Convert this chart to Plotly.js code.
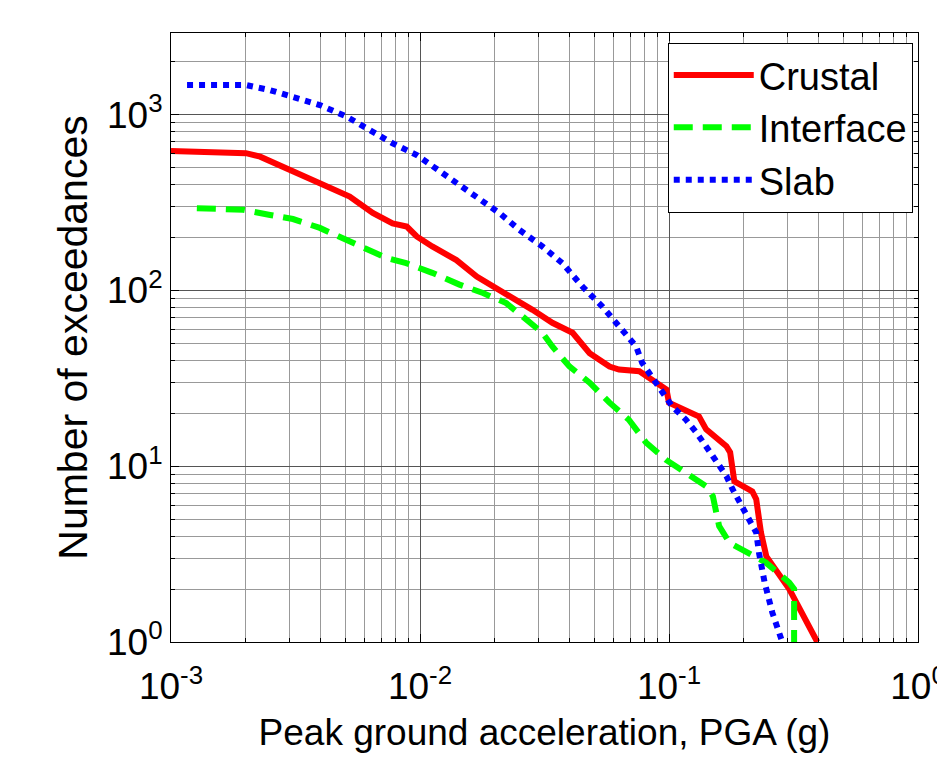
<!DOCTYPE html>
<html>
<head>
<meta charset="utf-8">
<script src="https://cdn.plot.ly/plotly-3.0.1.min.js"></script>
<style>html,body{margin:0;padding:0;background:#fff;}#chart{width:937px;height:758px;}</style>
</head>
<body>
<div id="chart"></div>
<script>
// Crustal
const crustalX = [0.001, 0.002, 0.00228, 0.003, 0.00396, 0.00522, 0.00646, 0.00776, 0.00885, 0.0097, 0.0112, 0.014, 0.0169, 0.0209, 0.024, 0.0283, 0.034, 0.041, 0.048, 0.0577, 0.063, 0.076, 0.089, 0.0977, 0.1, 0.117, 0.132, 0.141, 0.17, 0.176, 0.183, 0.216, 0.224, 0.234, 0.246, 0.304, 0.394];
const crustalY = [622, 604, 577, 485, 408, 342, 276, 241, 231, 203, 178, 149, 120, 101, 88.5, 77.6, 65.5, 57.5, 44, 36.9, 35.5, 34.7, 29.9, 27.3, 23, 21, 19.2, 16.2, 13, 12, 8.2, 7.2, 6.5, 4.2, 3.07, 2.0, 1];
// Interface
const interfaceX = [0.00127, 0.00195, 0.0025, 0.00309, 0.00396, 0.00476, 0.00573, 0.00735, 0.0088, 0.0112, 0.0144, 0.0179, 0.0222, 0.0258, 0.031, 0.034, 0.0398, 0.048, 0.0577, 0.069, 0.081, 0.097, 0.117, 0.141, 0.15, 0.159, 0.175, 0.216, 0.245, 0.304, 0.318, 0.318];
const interfaceY = [294, 288, 269, 255, 227, 203, 178, 153, 143, 126, 108, 96.7, 84.8, 71, 57.5, 48, 37, 29.9, 23, 18.4, 13.6, 10.9, 9.2, 7.7, 6.75, 4.56, 3.67, 3.08, 2.83, 2.18, 2.0, 1];
// Slab
const slabX = [0.00116, 0.002, 0.0025, 0.00309, 0.00396, 0.00508, 0.00628, 0.00776, 0.0097, 0.014, 0.0173, 0.0209, 0.0251, 0.031, 0.0373, 0.045, 0.054, 0.063, 0.0738, 0.078, 0.0887, 0.103, 0.117, 0.129, 0.15, 0.17, 0.18, 0.204, 0.224, 0.23, 0.242, 0.26, 0.285];
const slabY = [1475, 1475, 1380, 1265, 1135, 975, 818, 688, 590, 408, 327, 275, 221, 178, 143, 105, 81, 62, 48, 38.8, 30, 21.9, 18.4, 15.5, 11.4, 8.8, 7.4, 5.4, 4.2, 3.2, 2.19, 1.47, 1.0];

const xTickVals = [0.001, 0.01, 0.1, 1];
const xTickText = ['10<sup>-3</sup>', '10<sup>-2</sup>', '10<sup>-1</sup>', '10<sup>0</sup>'];
const yTickVals = [1, 10, 100, 1000];
const yTickText = ['10<sup>0</sup>', '10<sup>1</sup>', '10<sup>2</sup>', '10<sup>3</sup>'];

function minorVals(lo, hi) {
  const v = [];
  for (let e = lo; e < hi; e++) for (let m = 2; m <= 9; m++) v.push(m * Math.pow(10, e));
  return v;
}

const FONT = 'Liberation Sans, Arial, sans-serif';

const traces = [
  {x: crustalX, y: crustalY, name: 'Crustal', mode: 'lines', line: {color: '#ff0000', width: 6}},
  {x: interfaceX, y: interfaceY, name: 'Interface', mode: 'lines', line: {color: '#00ff00', width: 6, dash: '19px,10px'}},
  {x: slabX, y: slabY, name: 'Slab', mode: 'lines', line: {color: '#0000ff', width: 6, dash: 'dot'}}
];

const axisCommon = {
  type: 'log',
  showline: true, linecolor: '#000', linewidth: 1, mirror: 'allticks',
  ticks: 'inside', ticklen: 8, tickcolor: '#000', tickwidth: 1,
  showgrid: true, gridcolor: '#555', gridwidth: 1,
  zeroline: false,
  tickmode: 'array',
  ticklabeloverflow: 'allow',
  tickfont: {family: FONT, size: 37, color: '#000'}
};

const layout = {
  width: 937, height: 758,
  margin: {l: 171, r: 19, t: 33, b: 116},
  paper_bgcolor: '#fff', plot_bgcolor: '#fff',
  showlegend: true,
  xaxis: Object.assign({}, axisCommon, {
    range: [-3, 0],
    tickvals: xTickVals, ticktext: xTickText,
    ticklabelstandoff: 12,
    minor: {tickmode: 'array', tickvals: minorVals(-3, 0), ticks: 'inside', ticklen: 4, tickcolor: '#000', showgrid: true, gridcolor: '#999', gridwidth: 1},
    title: {text: 'Peak ground acceleration, PGA (g)', font: {family: FONT, size: 37, color: '#000'}, standoff: 12}
  }),
  yaxis: Object.assign({}, axisCommon, {
    range: [0, 3.465],
    tickvals: yTickVals, ticktext: yTickText,
    minor: {tickmode: 'array', tickvals: minorVals(0, 4), ticks: 'inside', ticklen: 4, tickcolor: '#000', showgrid: true, gridcolor: '#999', gridwidth: 1},
    title: {text: 'Number of exceedances', font: {family: FONT, size: 41, color: '#000'}, standoff: 6}
  }),
  legend: {
    x: 0.665, y: 0.984, xanchor: 'left', yanchor: 'top',
    bgcolor: '#fff', bordercolor: '#000', borderwidth: 1,
    font: {family: FONT, size: 38, color: '#000'},
    itemwidth: 80
  }
};

Plotly.newPlot('chart', traces, layout, {displayModeBar: false, staticPlot: true});
</script>
</body>
</html>
